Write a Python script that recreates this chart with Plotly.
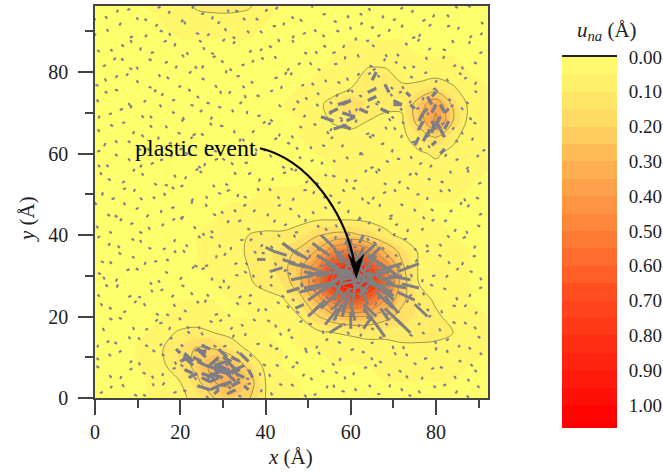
import plotly.graph_objects as go

grid_x = [0,4,8,12,16,20,24,28,32,36,40,44,48,52,56,60,64,68,72,76,80,84,88,92.2]
grid_y = [0,4,8,12,16,20,24,28,32,36,40,44,48,52,56,60,64,68,72,76,80,84,88,92,96.2]
# displacement magnitude x100, rows from y=0 upward
u_na_pct = [
[4,4,4,5,6,8,13,20,24,21,10,6,5,5,5,5,5,5,5,5,5,5,5,5],
[4,4,4,5,7,10,18,30,33,25,10,6,5,5,5,5,5,5,5,5,5,5,5,5],
[4,4,4,6,9,15,23,34,30,17,8,5,5,5,5,5,5,6,6,6,6,6,5,5],
[4,4,4,7,10,16,21,20,14,9,6,5,5,5,6,6,7,7,8,8,8,8,6,5],
[4,4,4,5,8,11,12,10,8,6,5,5,6,8,10,11,12,12,13,13,12,10,6,5],
[4,4,4,4,5,6,6,6,5,5,6,7,10,19,26,30,29,23,17,14,11,8,6,5],
[4,4,4,4,5,5,5,5,5,6,7,9,16,31,55,70,60,40,22,13,9,7,5,5],
[4,4,4,5,5,5,5,5,6,9,12,15,25,52,84,98,90,60,24,10,8,6,5,5],
[4,4,4,5,5,5,5,6,7,10,13,17,27,47,76,92,80,50,22,9,7,6,5,5],
[4,4,4,5,5,5,5,6,7,11,14,16,22,31,48,54,46,29,17,9,7,6,5,5],
[4,4,4,5,5,5,5,6,7,10,11,11,13,19,22,22,18,12,8,7,6,5,5,5],
[4,4,5,5,5,5,5,5,6,7,7,7,8,9,9,9,8,7,6,6,5,5,5,5],
[4,5,5,5,5,5,5,5,5,5,6,6,6,7,7,7,6,6,5,5,5,5,5,5],
[5,5,5,5,5,5,5,5,5,5,5,5,5,6,6,6,6,6,6,6,6,6,5,5],
[5,5,5,5,5,5,5,5,5,5,5,5,5,5,5,6,6,6,7,7,8,7,6,5],
[5,5,5,5,5,5,5,5,5,5,5,5,5,5,6,6,6,7,7,9,11,8,6,5],
[5,5,5,5,5,5,5,5,5,5,5,5,5,6,6,7,7,7,8,14,20,12,6,5],
[5,5,5,5,5,5,5,5,5,5,5,5,5,7,11,13,10,9,9,24,42,20,7,5],
[5,5,5,5,5,5,5,5,5,5,5,5,6,8,13,20,14,11,11,25,38,18,8,5],
[5,5,5,5,5,5,5,5,5,5,5,5,5,6,7,10,13,13,11,12,15,11,6,5],
[5,5,5,5,5,5,5,5,5,5,5,5,5,5,6,7,11,11,8,7,7,6,5,5],
[5,5,5,5,5,5,5,5,5,5,5,5,5,5,5,6,7,7,6,5,5,5,5,5],
[5,5,5,5,5,5,5,5,5,5,5,5,5,5,5,5,5,5,5,5,5,5,5,5],
[5,5,5,5,5,6,7,7,7,6,5,5,5,5,5,5,5,5,5,5,5,5,5,4],
[5,5,5,5,6,8,11,12,12,11,6,5,5,5,5,5,5,5,5,5,5,5,4,4],
]

bg_x = [
1.2,6.8,11.3,15.9,21.4,26.1,31.7,35.8,41.2,46.6,51.3,55.9,61.4,66.2,71.8,76.3,81.7,87.2,
3.4,8.1,13.7,18.2,23.3,28.9,33.4,38.6,43.1,48.7,53.2,58.8,63.1,68.7,73.4,78.9,84.3,89.6,
.9,5.6,10.2,16.3,20.8,25.4,30.6,36.7,42.3,47.1,52.8,57.4,62.6,67.3,72.9,77.2,82.8,88.1,
2.7,7.9,12.4,17.6,22.2,27.8,32.3,37.9,43.8,49.2,54.1,59.6,64.7,69.8,74.5,79.6,85.2,90.4,
1.8,6.3,11.9,15.1,19.7,24.6,29.2,34.8,40.4,45.3,50.9,56.2,61.8,65.4,70.3,75.8,81.1,86.6,
3.9,9.2,14.3,18.8,23.9,28.1,33.7,38.2,42.7,47.9,52.4,58.1,63.5,68.2,73.1,78.4,83.9,89.2,
.6,5.1,10.8,15.4,20.3,26.7,31.2,36.1,41.6,46.2,51.7,57.1,62.2,66.9,71.4,76.9,82.4,87.8,
2.3,7.4,12.9,17.1,22.8,27.3,32.9,37.4,44.3,48.3,53.6,59.1,64.2,69.3,74.1,79.1,84.8,90.7,
1.4,6.1,11.6,16.7,21.1,25.8,30.3,35.3,39.8,45.7,50.2,55.4,60.8,65.9,70.9,75.2,80.6,86.1,
3.1,8.6,13.2,18.5,24.2,29.4,34.1,38.9,43.4,49.6,54.7,58.5,63.9,67.8,72.4,77.7,83.2,88.9,
.8,5.9,10.4,15.7,20.6,25.2,31.1,36.4,41.9,46.9,52.1,56.8,61.6,66.6,71.1,76.6,81.9,87.4,
2.9,7.1,12.1,17.9,22.6,28.4,32.6,37.2,42.9,48.1,53.8,59.3,64.4,69.1,74.8,79.4,85.7,90.1,
1.6,6.6,11.1,16.1,20.1,26.4,30.9,35.6,40.8,46.4,51.1,55.6,60.4,65.1,70.6,75.4,80.9,86.9,
3.7,8.9,13.9,18.9,23.6,27.6,33.1,38.4,44.1,49.4,54.4,58.9,63.3,68.4,73.7,78.1,83.6,89.9,
.7,5.3,10.6,15.3,21.7,25.6,29.9,35.1,41.4,45.9,50.6,56.4,62.1,66.4,71.6,76.1,82.1,87.6,
2.1,7.7,12.7,17.3,22.4,28.6,33.9,37.6,42.1,47.6,53.3,57.8,64.9,69.6,74.3,78.6,84.6,90.9,
1.1,6.4,10.9,16.9,20.4,24.9,30.1,36.9,40.6,46.1,51.9,55.1,61.1,65.6,70.1,75.6,81.3,86.3,
3.3,8.3,13.4,18.1,23.1,27.1,32.1,38.1,43.6,48.9,54.9,59.9,63.7,68.9,72.1,77.9,83.4,88.4,
.4,5.4,11.4,15.6,21.9,26.9,31.4,35.4,41.1,47.3,52.6,56.6,60.1,66.8,71.3,76.8,80.4,87.1,
2.6,7.3,12.6,17.4,22.1,28.2,33.2,37.1,44.6,48.4,53.9,59.4,64.1,69.4,74.6,79.8,85.4,89.1,
1.9,6.2,10.1,16.4,20.9,25.1,29.6,34.4,39.6,45.1,50.4,56.1,61.9,65.2,70.4,75.1,81.6,86.4,
3.6,8.7,13.1,18.6,24.4,27.9,32.4,38.7,43.3,49.1,54.2,58.2,63.6,68.1,73.3,78.2,84.1,90.2,
.3,5.7,11.7,15.2,21.2,26.3,30.4,36.2,41.7,46.3,51.4,57.3,62.3,66.3,71.9,76.4,82.6,87.9,
2.4,7.6,12.2,17.2,22.7,27.4,33.6,37.7,42.4,48.6,53.4,59.2,64.6,69.9,74.2,79.3,85.1,90.6,
]
bg_y = [
1.1,2.7,.8,3.1,1.6,.5,2.2,3.4,1.3,2.9,.7,3.3,1.8,.9,2.4,1.2,3,.6,
5.6,6.9,4.8,7.2,5.1,7.6,4.4,6.2,7.8,5.3,6.8,4.6,7.4,5.9,4.9,7.1,5.4,6.4,
9.3,11.2,8.7,10.4,9.8,11.6,8.4,10.1,11.9,8.9,10.7,9.1,11.4,8.6,10.9,9.6,11.1,8.3,
13.7,15.1,12.6,14.4,15.8,12.9,14.8,13.2,15.4,12.3,14.1,15.6,13.4,12.8,15.2,13.9,12.4,14.7,
17.2,19.4,16.6,18.3,19.7,16.9,18.8,17.6,19.1,16.3,18.1,19.9,17.4,16.7,19.3,17.9,16.4,18.6,
21.8,23.3,20.7,22.4,23.8,20.4,22.9,21.2,23.6,20.9,22.1,23.1,21.6,20.2,23.4,21.4,22.7,20.6,
25.4,27.1,24.6,26.3,27.7,24.9,26.8,25.1,27.4,24.3,26.1,27.9,25.7,24.4,27.2,25.9,26.6,24.8,
29.1,31.3,28.4,30.6,31.8,28.8,30.2,29.6,31.1,28.2,30.9,29.4,31.6,28.6,30.4,29.9,31.4,28.9,
33.6,35.2,32.7,34.1,35.7,32.4,34.9,33.2,35.4,32.8,34.4,33.9,35.9,32.3,34.7,33.4,35.1,32.6,
37.4,39.1,36.6,38.3,39.8,36.9,38.7,37.1,39.6,36.2,38.1,37.8,39.3,36.4,38.9,37.6,39.4,36.7,
41.7,43.4,40.8,42.2,43.8,40.4,42.9,41.3,43.1,40.6,42.4,41.9,43.6,40.9,42.7,41.1,43.3,40.3,
45.1,47.3,44.4,46.6,47.7,44.8,46.2,45.6,47.1,44.3,46.9,45.4,47.6,44.6,46.4,45.9,47.4,44.9,
49.7,51.2,48.6,50.3,51.8,48.9,50.8,49.1,51.4,48.4,50.1,49.4,51.6,48.7,50.6,49.9,51.1,48.3,
53.4,55.6,52.7,54.1,55.9,52.3,54.8,53.1,55.2,52.8,54.4,53.7,55.4,52.4,54.6,53.9,55.1,52.6,
57.2,59.4,56.6,58.3,59.7,56.9,58.8,57.6,59.1,56.4,58.1,57.9,59.6,56.3,58.6,57.3,59.2,56.7,
61.8,63.1,60.7,62.4,63.6,60.4,62.9,61.2,63.4,60.9,62.1,61.6,63.8,60.3,62.7,61.4,63.3,60.6,
65.3,67.4,64.6,66.2,67.8,64.9,66.7,65.1,67.2,64.4,66.9,65.6,67.6,64.3,66.4,65.9,67.1,64.7,
69.6,71.1,68.7,70.3,71.7,68.4,70.8,69.2,71.4,68.9,70.1,69.9,71.3,68.6,70.6,69.4,71.6,68.3,
73.2,75.4,72.6,74.1,75.8,72.3,74.7,73.6,75.2,72.9,74.4,73.9,75.6,72.4,74.9,73.1,75.1,72.7,
77.7,79.1,76.4,78.3,79.6,76.8,78.9,77.2,79.3,76.6,78.1,77.9,79.4,76.3,78.6,77.4,79.8,76.9,
81.3,83.4,80.6,82.2,83.7,80.9,82.8,81.6,83.1,80.3,82.4,81.9,83.6,80.4,82.6,81.1,83.3,80.7,
85.6,87.2,84.7,86.3,87.8,84.4,86.9,85.2,87.4,84.8,86.1,85.9,87.6,84.3,86.6,85.4,87.1,84.6,
89.1,91.4,88.6,90.2,91.7,88.9,90.7,89.6,91.2,88.3,90.4,89.9,91.6,88.7,90.9,89.3,91.1,88.4,
93.7,95.2,92.6,94.3,95.6,92.9,94.8,93.2,95.4,92.4,94.1,93.9,95.1,92.7,94.6,93.4,95.7,92.3,
]
bg_u = [
.8,-.6,.9,.5,-.9,.7,-.4,1,.6,-.8,.9,.4,-.7,1,.5,-.6,.9,.7,
.6,.9,-.5,1,.7,-.8,.9,.3,-.9,.6,.8,-.4,1,.7,-.6,.9,.5,-.8,
-.7,.8,.6,-.9,.4,1,.7,-.5,.9,.8,-.6,.3,.9,-.8,.6,1,-.4,.7,
.9,.5,-.8,.7,-.6,.9,.4,1,-.7,.6,.8,-.5,.9,.3,-.9,.7,.6,-.8,
.5,-.9,.7,1,.6,-.4,.8,-.7,.9,.5,-1,.6,.4,-.8,.9,.7,-.5,.8,
-.8,.7,.9,-.5,.6,1,-.7,.4,.8,-.9,.6,.9,-.4,.7,.5,-.8,1,.6,
.7,.4,-.9,.8,.9,-.6,.5,1,-.7,.8,-.4,.6,.9,-.8,.7,.5,-.9,.4,
-.5,.9,.6,-.8,.7,.4,1,-.6,.9,.5,.8,-.7,.6,-.9,.4,1,.7,-.5,
.9,-.7,.4,.8,-.6,1,.5,.7,-.9,.6,.4,.8,-.5,.9,-.7,.6,.9,.3,
.6,.8,-.9,.5,.7,-.4,1,.6,-.7,.9,-.5,.8,.4,-.6,1,.7,-.8,.5,
-.7,.5,.9,.6,-.8,.7,.4,-.9,.6,1,.7,-.5,.8,.3,-.9,.6,.9,-.4,
.8,-.5,.6,1,.4,-.9,.7,.5,.9,-.6,.8,.4,-.7,1,.6,-.8,.5,.9,
.4,.9,-.7,.6,.8,-.5,1,-.9,.7,.3,.6,-.8,.9,.5,-.6,1,.7,-.4,
-.9,.6,.8,-.4,.9,.7,-.6,.5,1,.8,-.7,.4,.6,-.9,.7,.8,-.5,1,
.7,-.8,.5,.9,-.6,.4,.8,1,-.5,.7,.9,-.7,.4,.6,-1,.8,.5,-.6,
.5,.8,-.6,1,.7,-.9,.4,.6,.8,-.5,.9,.7,-.8,.4,1,-.6,.7,.9,
-.6,.9,.7,-.5,.4,.8,-1,.6,.9,.5,-.8,.7,.4,-.9,.6,1,.8,-.4,
.9,.4,-.7,.8,-.9,.6,.5,1,-.6,.7,.8,-.4,.9,.6,-.7,.5,1,-.8,
.6,-.9,.8,.5,.7,-1,.6,-.4,.9,.8,-.7,.5,.6,-.8,.9,.4,-.6,.7,
-.4,.7,.9,-.8,.6,.5,1,-.7,.4,.9,.6,-.5,.8,.7,-.9,.6,.8,.5,
.8,.6,-.5,.9,-.7,.4,.7,.9,-.8,.6,.5,1,-.4,.8,.7,-.9,.6,-.5,
.7,-.6,1,.4,.8,-.9,.6,.7,-.5,.9,-.8,.4,1,.6,-.7,.8,-.4,.9,
-.9,.5,.7,.9,-.4,.8,.6,-.7,1,.5,.7,-.9,.6,.8,.4,-.6,.9,.7,
.6,.9,-.8,.5,.7,.4,-.9,.8,.6,-.7,1,.5,-.6,.9,.7,.4,-.8,.6,
]
bg_v = [
.6,.9,-.4,1,.5,-.8,1,.3,-.9,.7,.4,-1,.7,.2,-.9,.8,.5,-.7,
-.9,.5,.9,.2,-.8,.6,.4,-1,.5,.8,-.6,.9,.2,-.7,.8,.4,-.9,.6,
.7,.6,-.8,.5,1,.2,-.7,.9,.5,-.6,.8,1,-.4,.6,-.8,.3,.9,-.7,
.4,-.9,.6,.7,.8,-.5,1,.2,.7,-.8,.6,.9,.4,-1,.5,-.7,.8,.6,
-1,.4,.7,.3,-.8,.9,.6,.7,-.5,.9,.2,-.8,1,.6,-.4,.7,.9,-.6,
.6,.7,-.5,.9,-.8,.3,.7,1,-.6,.5,.8,.4,-.9,.7,.9,.6,-.2,.8,
-.7,1,.4,.6,-.5,.8,.9,.2,.7,-.6,.9,-.8,.4,.6,.7,-.9,.5,1,
.9,.4,-.8,.6,.7,1,-.2,.8,.5,-.9,.6,.7,.8,.4,-1,.3,.7,.9,
-.5,.7,.9,-.6,.8,.2,.9,-.7,.4,.8,1,.6,-.9,.5,.7,.8,-.4,1,
.8,-.6,.4,.9,-.7,1,.2,.8,.7,-.5,.9,.6,-1,.8,.3,-.7,.6,.9,
.7,.9,-.5,.8,.6,-.7,1,.4,.8,.2,-.7,.9,.6,1,-.4,.8,.5,.9,
-.6,.9,.8,.3,1,.5,-.7,.9,.4,.8,-.6,1,.7,.3,-.8,.6,.9,.5,
1,.4,.7,-.8,.6,.9,.3,.5,-.7,1,.8,.6,-.4,.9,.8,.2,-.7,.9,
.5,.8,-.6,.9,.4,-.7,.8,1,.2,.6,.7,-1,.8,.4,.7,-.6,.9,.3,
-.7,.6,.9,.4,.8,1,-.6,.3,.9,-.7,.4,.7,1,-.8,.2,.6,.9,-.8,
1,-.6,.8,.2,.7,.4,1,-.8,.6,.9,-.4,.7,.6,1,.3,.8,-.7,.4,
.8,.4,-.7,.9,1,-.6,.2,.8,.4,-.9,.6,.7,1,.4,-.8,.2,.6,.9,
.4,1,.7,-.6,.4,.8,-.9,.2,.8,.7,-.6,.9,.4,-.8,.7,.9,.3,.6,
-.8,.4,.6,.9,-.7,.2,.8,1,.4,-.6,.7,.9,-.8,.6,.4,1,.8,-.7,
1,.7,-.4,.6,.8,-.9,.2,.7,1,.4,-.8,.9,.6,-.7,.4,.8,-.6,.9,
.6,-.8,.9,.4,.7,1,-.7,.4,.6,.8,-.9,.2,1,.6,-.7,.4,.8,.9,
-.7,.8,.2,1,-.6,.4,.8,.7,.9,-.4,.6,1,.2,-.8,.7,.6,1,.4,
.4,.9,.7,-.4,1,.6,-.8,.7,.2,.9,-.7,.4,.8,.6,1,-.8,.4,.7,
-.8,.4,.6,.9,.7,1,.4,-.6,.8,.7,.2,-.9,.8,.4,.7,1,.6,-.8,
]
# second set of tick positions, filling the gaps between the first set
bg2_x = [
3.6,9.2,13.8,18.4,24.2,29.1,33.6,38.9,43.9,49.1,54.3,58.6,64.2,69.1,74.2,79.4,84.6,90.2,
1,5.9,11.2,15.8,20.7,26.4,31.2,36.2,40.8,46.2,51,56.3,60.6,66.1,71.3,76.6,81.6,87.4,
3.2,8.2,14.1,18.7,23.4,28.3,33.8,39.4,44.7,49.8,55.6,60,65.1,70.2,75.4,79.9,85.3,90.8,
.5,5.2,10.1,15.2,20.1,25.3,30.1,35.2,41,46.5,51.8,57,62.2,67.4,72.2,77.3,82.4,87.7,
4.1,8.9,14.2,17.4,22.1,26.9,31.8,37.1,42.6,48,53.4,58.8,63.7,68.2,73,78.3,83.9,89.4,
1.3,6.7,11.8,16.7,21.5,25.8,31.2,35.9,40.3,45.1,50,55.4,60.7,65.6,70.8,75.9,81.4,86.6,
3,7.8,13.2,18,22.9,29.1,33.7,38.7,43.8,48.7,54.1,59.3,64.4,69.2,73.8,79.3,84.7,90.1,
.7,4.9,10.2,14.8,19.9,25,30.3,35,41.2,46,51.1,56.7,61.7,66.8,71.6,76.7,82.3,87.9,
3.9,8.7,13.9,19,23.4,28.4,32.7,37.8,42.2,48.2,52.9,57.9,63.3,68.4,73.2,77.7,83.2,88.6,
.6,5.8,10.6,15.9,21.8,27,31.8,36.3,41.2,47,52.1,56.2,61.4,65.3,70.1,75.4,80.8,86.3,
3.4,8.3,12.9,18.2,23.2,27.7,33.6,38.8,44.4,49.3,54.5,59.2,64.1,69,73.5,79,84.3,89.7,
.4,4.6,9.6,15.4,20.1,25.9,30.1,34.8,40.4,45.6,51.4,56.9,61.9,66.7,72.3,76.9,83.2,87.4,
3.9,9.1,13.6,18.6,22.6,28.9,33.4,38.1,43.3,48.9,53.6,58.1,62.9,67.6,73.1,77.9,83.4,89.4,
1.2,6.4,11.4,16.4,21.1,25.1,30.6,35.9,41.6,46.9,51.9,56.4,60.8,65.9,71.2,75.6,81.1,87.4,
3.2,7.8,13.1,17.8,24.2,28.1,32.4,37.6,43.9,48.4,53.1,58.9,64.6,68.9,74.1,78.6,84.6,90.1,
.5,5.2,10.2,14.8,19.9,26.1,31.4,35.1,39.6,45.1,50.8,55.3,62.4,67.1,71.8,76.1,82.1,88.4,
3.6,8.9,13.4,19.4,22.9,27.4,32.6,39.4,43.1,48.6,54.4,57.6,63.6,68.1,72.6,78.1,83.8,88.8,
.8,5.8,10.9,15.6,20.6,24.6,29.6,35.6,41.1,46.4,52.4,57.4,61.2,66.4,69.6,75.4,80.9,85.9,
2.9,7.9,13.9,18.1,24.4,29.4,33.9,37.9,43.6,49.8,55.1,59.1,62.6,69.3,73.8,79.3,82.9,89.6,
.1,4.8,10.1,14.9,19.6,25.7,30.7,34.6,42.1,45.9,51.4,56.9,61.6,66.8,72.1,77.3,82.9,86.6,
4.4,8.7,12.6,18.9,23.4,27.6,32.1,36.9,42.1,47.6,52.9,58.6,64.4,67.7,72.9,77.6,84.1,88.9,
1.1,6.2,10.6,16.1,21.9,25.4,29.9,36.2,40.8,46.6,51.7,55.7,61.1,65.6,70.8,75.7,81.6,87.7,
2.8,8.2,14.2,17.7,23.7,28.8,32.9,38.7,44.2,48.8,53.9,59.8,64.8,68.8,74.4,78.9,85.1,90.4,
.2,5.1,9.7,14.7,20.2,24.9,31.1,35.2,39.9,46.1,50.9,56.7,62.1,67.4,71.7,76.8,82.6,88.1,
]
bg2_y = [
2.4,.9,2.9,1.2,3.2,2.1,.6,1.4,3.1,.8,2.4,1.5,3.2,2.6,.4,3,1.1,2.5,
7.4,4.7,6.3,5.4,7.7,5.1,6.7,4.6,5.9,7.4,4.4,6.4,5.6,7.7,6.8,4.5,7.3,4.7,
10.8,8.6,11.3,8.9,11.6,9.1,10.9,8.3,9.7,11.1,8.5,11.8,9.3,11.2,8.2,11.7,9.2,10.6,
12.4,13.3,14.9,12.8,13.1,15.4,12.6,15.2,13.1,14.6,12.2,13.8,15.1,14.7,12.7,15.7,14.1,12.5,
19.2,17.4,18.8,16.7,17.1,18.9,16.8,19.4,17.3,18.6,16.5,17.8,19.6,18.4,16.9,19.8,18.7,16.9,
23.2,20.9,22.6,20.6,21.1,23.4,20.5,23.1,21.4,22.7,20.3,21.6,23.7,22.8,20.9,23.3,20.8,22.4,
27.3,24.8,26.6,24.7,25.3,27.4,24.6,26.9,25.2,27.2,24.8,25.6,27.6,26.7,24.9,27.5,24.7,26.9,
30.7,28.6,31.4,28.9,29.1,31.6,28.3,31.1,29.4,30.3,28.5,31.7,28.7,30.4,31.9,28.4,29.6,31.2,
32.9,34.8,33.4,35.6,32.6,34.3,32.8,35.5,33.2,34.6,32.3,35.7,33.1,34.4,32.5,35.8,32.9,34.7,
39.3,36.8,38.8,36.4,37.1,39.6,36.3,38.6,37.3,39.4,36.6,39.1,36.9,38.3,39.7,36.2,37.8,39.2,
40.9,42.6,41.3,43.6,42.1,40.5,43.3,40.7,42.3,43.2,41.1,40.3,42.7,43.9,41.4,43.4,40.8,42.4,
47.4,44.8,46.3,45.4,44.2,47.6,45.3,47.1,44.6,46.6,45.2,47.8,44.4,46.9,47.2,44.5,45.7,46.8,
48.8,50.6,49.4,51.3,48.3,50.4,49.3,51.5,48.9,50.9,49.1,51.2,48.5,50.2,51.7,48.6,50.7,49.2,
55.4,52.8,54.6,52.4,53.7,55.2,52.6,54.9,53.3,55.6,52.9,54.3,53.1,55.8,52.7,54.7,53.2,55.3,
56.7,58.8,57.4,59.1,56.9,58.4,57.2,59.5,56.8,58.7,57.3,59.2,56.4,57.8,59.4,56.6,58.3,59.6,
60.4,62.6,61.2,63.4,60.8,62.3,61.6,63.1,60.6,62.7,61.1,63.6,60.2,62.2,63.8,61.3,60.7,63.2,
67.1,64.8,66.4,65.2,64.5,66.9,65.7,67.4,64.2,66.3,65.4,67.8,64.7,66.6,67.3,64.9,65.8,67.6,
68.6,70.7,69.3,71.4,68.9,70.2,71.2,69.7,68.3,70.6,71.6,68.8,70.4,71.9,69.1,70.9,68.4,71.3,
74.8,72.4,75.1,72.9,73.6,75.4,72.2,74.3,75.9,73.2,72.7,75.2,73.9,74.6,72.3,75.7,73.4,74.9,
76.9,78.6,77.3,79.4,76.2,78.1,79.7,76.6,78.4,79.2,76.8,77.6,79.1,78.7,76.5,79.6,77.7,78.3,
82.9,80.6,83.2,80.9,81.4,83.6,80.3,82.3,83.9,81.8,80.4,83.1,81.6,82.7,80.8,83.7,81.3,82.4,
84.9,86.7,85.3,87.4,84.2,86.1,87.6,84.8,86.4,87.2,85.1,84.6,87.7,86.2,84.4,87.5,85.6,86.9,
90.6,88.4,91.2,88.9,89.6,91.8,88.2,90.1,91.4,89.3,88.6,91.1,90.7,89.9,88.3,91.7,90.4,89.1,
92.8,94.6,93.4,95.7,92.3,94.2,95.3,92.7,94.9,93.6,95.8,92.2,94.4,93.2,95.4,92.5,94.1,95.9,
]

core_x = [46,48,50,52,53,55,56,57,58,60,61,62,64,65,66,68,69,70,72,74,76,66,63,60,56,53,50,46,44,
          70,72,66,60,54,50,44,42,40,38,47,51,53,56,59,61,63,65,67,69,71,58,62,64,55,52,49,58,61,73,
          75,78,74,47,45,55,68,63,52,54,57,60,62,65,67,70,49,51,56,59,63,66,69,72,48,44,41,58,64,70,76]
core_y = [29,33,30,35,26,31,24,36,21,22,27,32,23,28,35,27,31,24,33,29,33,38,37,39,22,22,24,33,38,
          22,18,18,17,18,20,38,36,37,34,36,38,40,37,39,36,34,31,37,25,21,28,30,26,32,27,27,20,19,27,
          24,20,16,22,26,16,15,40,30,33,29,34,25,30,33,28,31,21,19,24,17,20,19,30,26,34,31,31,35,25,27]
core_u = [5,5,4,5,4,5,2,3,2,1,-1,4,-2,-4,-3,-5,-5,-3,-6,-5,-5,-4,-2,0,4,4,4,4,4,
          -4,-4,-3,0,3,3,4,3,2,2,3,4,3,2,1,1,-2,-4,-3,-4,-3,5,-4,-3,5,5,5,1,-1,-5,
          -4,-3,-3,2,3,3,-2,-1,5,4,4,-2,3,-4,4,-4,5,3,2,-3,2,-3,-2,-5,4,3,3,-3,4,-3,-4]
core_v = [1,-2,1,-3,3,-1,5,-4,5,5,4,-4,5,3,-4,2,-1,4,-2,1,-2,-4,-5,-5,5,4,3,-1,-3,
          4,4,4,4,4,3,-3,-1,-1,0,-2,-3,-3,-4,-4,-4,-4,-2,-3,3,4,1,-1,2,-1,2,1,4,4,1,
          2,3,3,1,1,2,3,-2,1,-2,3,-4,4,-3,-3,2,-1,3,4,4,3,3,3,-1,1,-1,1,-4,-3,3,1]

side_x = [20,21,23,24,25,26,27,28,29,30,31,32,33,34,35,36,22,24,27,29,31,33,19,25,28,30,35,37,30,26,23,28,32,
          21,24,26,28,30,32,34,25,29,31,
          75,76,77,78,79,80,81,82,83,78,80,82,76,79,81,74,77,79,81,83,
          53,55,57,59,60,62,64,66,68,70,72,74,61,65,69,56,58]
side_y = [9,11,8,12,6,10,4,8,12,5,9,3,7,11,5,2,5,3,2,10,1,4,12,13,6,7,8,5,3,8,10,1,6,
          7,9,11,7,10,6,9,5,3,7,
          62,66,70,64,68,72,60,64,68,74,75,70,68,62,66,72,63,65,69,71,
          69,70,72,68,73,71,75,74,77,73,72,74,69,78,70,66,67]
side_u = [2,2,-2,2,3,-2,2,3,2,-3,2,2,-2,2,-2,-1,2,3,2,-2,2,-2,1,2,3,-2,-2,-1,2,3,2,1,-2,
          2,2,-2,3,2,2,-2,2,3,-2,
          1,1,1,.5,1,-1,1,-1,-1,1,-1,-1,1,1,-1,1,1,.5,-1,-1,
          3,2,3,2,-2,2,2,-2,1,2,-2,-1,-3,1,-2,3,2]
side_v = [1,-2,2,-1,-1,2,1,1,-2,1,-2,1,-1,-2,1,1,1,-1,1,-2,1,2,-1,-1,1,1,-1,2,1,-1,-1,1,1,
          -1,-1,1,-1,-1,1,1,-1,1,1,
          2,2,1,2,-2,-2,1,2,-2,-2,-1,2,2,1,2,-1,2,2,-2,-1,
          -1,1,1,1,-1,-1,1,-1,-2,-1,0,1,1,2,1,1,-1]

x_ticks = [0,20,40,60,80]
y_ticks = [0,20,40,60,80]
legend_ticks = [0,.1,.2,.3,.4,.5,.6,.7,.8,.9,1]
legend_edges = [0,.05,.1,.15,.2,.25,.3,.35,.4,.45,.5,.55,.6,.65,.7,.75,.8,.85,.9,.95,1,1.05,1.066]
legend_mid = [.025,.075,.125,.175,.225,.275,.325,.375,.425,.475,.525,.575,.625,.675,.725,.775,.825,.875,.925,.975,1.025,1.05]

scale = [[0,"rgb(255,255,110)"],[.095,"rgb(255,236,105)"],[.19,"rgb(255,212,98)"],[.285,"rgb(255,182,85)"],
         [.38,"rgb(255,155,70)"],[.476,"rgb(255,130,55)"],[.667,"rgb(255,72,30)"],[1,"rgb(255,0,0)"]]
FONT = "Liberation Serif"
INK = "#222222"
AX = "#444444"
W, H = 663, 472

def segments(xs, ys, us, vs, k=1):
    px, py = [], []
    for a, b, c, d in zip(xs, ys, us, vs):
        px += [a, a + k * c, None]
        py += [b, b + k * d, None]
    return px, py

z = [[v / 100 for v in row] for row in u_na_pct]
fig = go.Figure()
fig.add_trace(go.Contour(x=grid_x, y=grid_y, z=z, colorscale=scale, zmin=.03, zmax=1.08, showscale=False,
                         contours=dict(coloring="fill", start=0, end=1.05, size=.05),
                         line=dict(width=0, smoothing=1), hoverinfo="skip"))
fig.add_trace(go.Contour(x=grid_x, y=grid_y, z=z, showscale=False,
                         contours=dict(coloring="none", start=.1, end=1, size=.1),
                         line=dict(color="rgb(150,140,65)", width=.9, smoothing=1), hoverinfo="skip"))
bx, by = segments(bg_x, bg_y, bg_u, bg_v, .75)
fig.add_trace(go.Scatter(x=bx, y=by, mode="lines", line=dict(color="rgb(125,125,145)", width=2.1), hoverinfo="skip", showlegend=False))
b2x, b2y = segments(bg2_x, bg2_y, bg_v, bg_u, .75)
fig.add_trace(go.Scatter(x=b2x, y=b2y, mode="lines", line=dict(color="rgb(125,125,145)", width=2.1), hoverinfo="skip", showlegend=False))
sx, sy = segments(side_x, side_y, side_u, side_v)
fig.add_trace(go.Scatter(x=sx, y=sy, mode="lines", line=dict(color="rgb(125,125,135)", width=3.2), hoverinfo="skip", showlegend=False))
cx, cy = segments(core_x, core_y, core_u, core_v)
fig.add_trace(go.Scatter(x=cx, y=cy, mode="lines", line=dict(color="rgb(128,128,128)", width=3), hoverinfo="skip", showlegend=False))
fig.add_trace(go.Heatmap(x=[0, 1], y=legend_edges, z=[[v] for v in legend_mid], xaxis="x2", yaxis="y2",
                         colorscale=scale, zmin=0, zmax=1.05, showscale=False, hoverinfo="skip"))

tick_font = dict(family=FONT, size=20, color=INK)
axis = dict(automargin=False, showgrid=False, zeroline=False, showline=True, linecolor=AX, linewidth=1.5, mirror=True,
            ticks="outside", ticklen=15, tickwidth=1.5, tickcolor=AX, tickfont=tick_font,
            minor=dict(ticks="outside", ticklen=8, tickwidth=1.5, tickcolor=AX, dtick=10, showgrid=False))
label = dict(xref="paper", yref="paper", showarrow=False, xanchor="center", yanchor="middle")
fig.update_layout(
    width=W, height=H, margin=dict(l=0, r=0, t=0, b=0), paper_bgcolor="white", plot_bgcolor="white", showlegend=False,
    xaxis=dict(axis, domain=[95/W, 488/W], range=[0, 92.2], tickvals=x_ticks, anchor="y", ticklabelstandoff=0),
    yaxis=dict(axis, domain=[1-398/H, 1-6/H], range=[0, 96.2], tickvals=y_ticks, anchor="x", ticklabelstandoff=6),
    xaxis2=dict(automargin=False, domain=[562/W, 617/W], range=[0, 1], anchor="y2", side="top", showline=True, linecolor="#222222", linewidth=1.5,
                showgrid=False, zeroline=False, ticks="", showticklabels=False),
    yaxis2=dict(automargin=False, domain=[1-428/H, 1-57/H], range=[1.066, 0], anchor="x2", side="right", showgrid=False, zeroline=False,
                tickvals=legend_ticks, ticktext=[f"{v:.2f}" for v in legend_ticks], ticks="outside", ticklen=7,
                tickcolor="rgba(0,0,0,0)", tickfont=dict(family=FONT, size=19, color=INK)),
    shapes=[
        dict(type="path", xref="x", yref="y", path="M 38.7 61.3 C 50.5 58.4 58.7 44.9 60.8 33.4",
             line=dict(color="black", width=2.2)),
        dict(type="path", xref="x", yref="y", path="M 61.3 29.4 L 59.4 35.3 L 61.2 33.2 L 63.1 35.3 Z",
             fillcolor="black", line=dict(color="black", width=.5)),
    ],
    annotations=[
        dict(label, text="plastic event", x=195/W, y=1-148/H, font=dict(family=FONT, size=24, color="black")),
        dict(label, text="<i>x</i> (Å)", x=290/W, y=1-457/H, font=dict(family=FONT, size=21, color=INK)),
        dict(label, text="<i>y</i> (Å)", x=27/W, y=1-219/H, textangle=-90, font=dict(family=FONT, size=21, color=INK)),
        dict(label, text="<i>u<sub>na</sub></i> (Å)", x=607/W, y=1-31/H, font=dict(family=FONT, size=21, color=INK)),
    ],
)
fig.write_html("out.html", config=dict(displayModeBar=False),
               post_script="document.body.style.margin='0';document.documentElement.style.overflow='hidden';")
